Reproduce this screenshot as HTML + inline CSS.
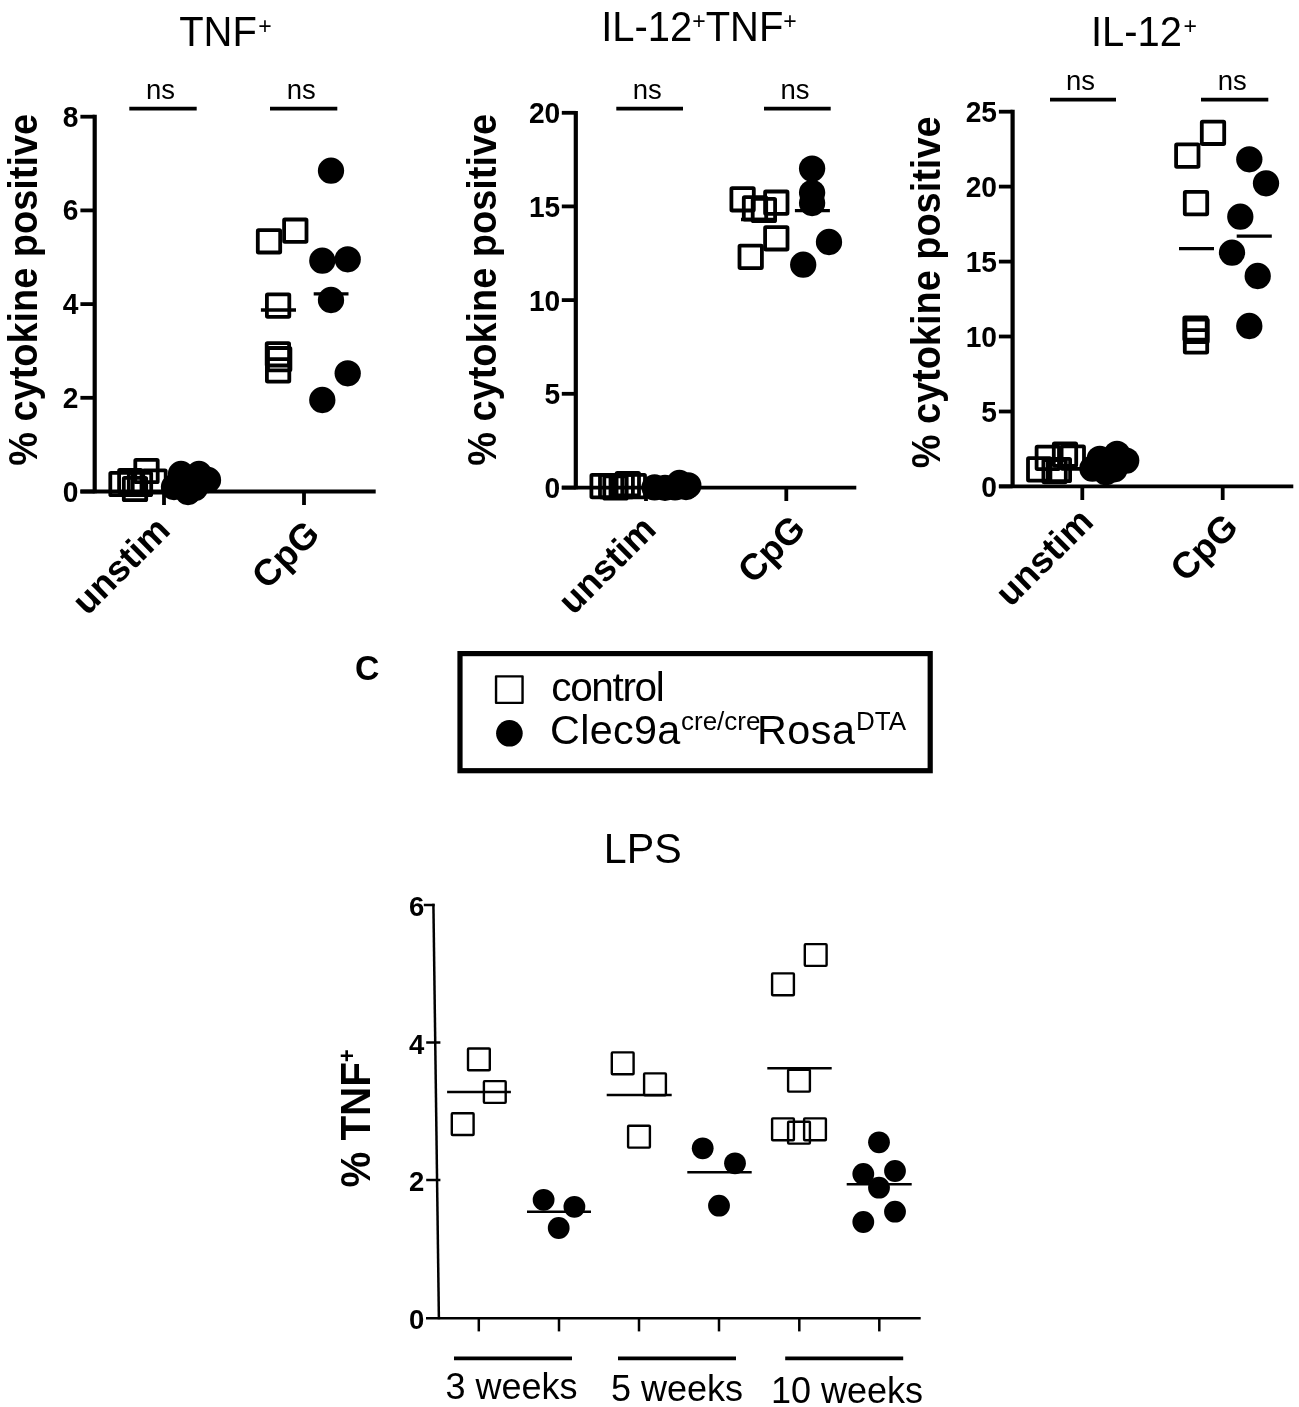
<!DOCTYPE html>
<html><head><meta charset="utf-8"><title>Figure</title>
<style>html,body{margin:0;padding:0;background:#fff;width:1299px;height:1407px;overflow:hidden}svg{display:block}text{fill:#000}</style>
</head><body>
<svg width="1299" height="1407" viewBox="0 0 1299 1407" role="img" aria-label="Cytokine production figure">
<rect width="1299" height="1407" fill="#fff"/>
<g id="p1">
<line x1="94.7" y1="114.8" x2="94.7" y2="493.2" stroke="#000" stroke-width="4.2" stroke-linecap="butt"/>
<line x1="80.4" y1="491.5" x2="375.7" y2="491.5" stroke="#000" stroke-width="3.8" stroke-linecap="butt"/>
<line x1="80.4" y1="116.7" x2="94.7" y2="116.7" stroke="#000" stroke-width="3.8" stroke-linecap="butt"/>
<text transform="translate(78.5 126.7) scale(0.93 1)" font-size="30.3" font-family="Liberation Sans, Arial, Helvetica, sans-serif" font-weight="bold" text-anchor="end" >8</text>
<line x1="80.4" y1="210.4" x2="94.7" y2="210.4" stroke="#000" stroke-width="3.8" stroke-linecap="butt"/>
<text transform="translate(78.5 220.4) scale(0.93 1)" font-size="30.3" font-family="Liberation Sans, Arial, Helvetica, sans-serif" font-weight="bold" text-anchor="end" >6</text>
<line x1="80.4" y1="304.1" x2="94.7" y2="304.1" stroke="#000" stroke-width="3.8" stroke-linecap="butt"/>
<text transform="translate(78.5 314.1) scale(0.93 1)" font-size="30.3" font-family="Liberation Sans, Arial, Helvetica, sans-serif" font-weight="bold" text-anchor="end" >4</text>
<line x1="80.4" y1="397.8" x2="94.7" y2="397.8" stroke="#000" stroke-width="3.8" stroke-linecap="butt"/>
<text transform="translate(78.5 407.8) scale(0.93 1)" font-size="30.3" font-family="Liberation Sans, Arial, Helvetica, sans-serif" font-weight="bold" text-anchor="end" >2</text>
<line x1="80.4" y1="491.5" x2="94.7" y2="491.5" stroke="#000" stroke-width="3.8" stroke-linecap="butt"/>
<text transform="translate(78.5 501.5) scale(0.93 1)" font-size="30.3" font-family="Liberation Sans, Arial, Helvetica, sans-serif" font-weight="bold" text-anchor="end" >0</text>
<line x1="164.0" y1="491.5" x2="164.0" y2="505.0" stroke="#000" stroke-width="3.8" stroke-linecap="butt"/>
<line x1="304.0" y1="491.5" x2="304.0" y2="505.0" stroke="#000" stroke-width="3.8" stroke-linecap="butt"/>
<text transform="translate(37.2 289.8) rotate(-90) scale(0.925 1)" font-size="41" font-family="Liberation Sans, Arial, Helvetica, sans-serif" font-weight="bold" text-anchor="middle" >% cytokine positive</text>
<text transform="translate(179.2 46.2) scale(0.94 1)" font-size="42.5" font-family="Liberation Sans, Arial, Helvetica, sans-serif">TNF<tspan font-size="24.5" dx="1.5" dy="-12.5">+</tspan></text>
<line x1="129.3" y1="108.7" x2="196.7" y2="108.7" stroke="#000" stroke-width="3.8" stroke-linecap="butt"/>
<text x="160.6" y="99.1" font-size="27.5" font-family="Liberation Sans, Arial, Helvetica, sans-serif" text-anchor="middle" >ns</text>
<line x1="270.0" y1="108.7" x2="337.3" y2="108.7" stroke="#000" stroke-width="3.8" stroke-linecap="butt"/>
<text x="301.2" y="99.1" font-size="27.5" font-family="Liberation Sans, Arial, Helvetica, sans-serif" text-anchor="middle" >ns</text>
<text transform="translate(171.9 532.0) rotate(-45)" font-size="36.5" font-family="Liberation Sans, Arial, Helvetica, sans-serif" font-weight="bold" text-anchor="end" >unstim</text>
<text transform="translate(321.5 536.0) rotate(-45)" font-size="36.5" font-family="Liberation Sans, Arial, Helvetica, sans-serif" font-weight="bold" text-anchor="end" >CpG</text>
<rect x="110.3" y="472.8" width="22.4" height="22.4" fill="none" stroke="#000" stroke-width="3.8" stroke-linejoin="round" rx="0.8"/>
<rect x="119.1" y="469.8" width="22.4" height="22.4" fill="none" stroke="#000" stroke-width="3.8" stroke-linejoin="round" rx="0.8"/>
<rect x="135.3" y="459.8" width="22.4" height="22.4" fill="none" stroke="#000" stroke-width="3.8" stroke-linejoin="round" rx="0.8"/>
<rect x="143.3" y="470.3" width="22.4" height="22.4" fill="none" stroke="#000" stroke-width="3.8" stroke-linejoin="round" rx="0.8"/>
<rect x="123.8" y="477.8" width="22.4" height="22.4" fill="none" stroke="#000" stroke-width="3.8" stroke-linejoin="round" rx="0.8"/>
<rect x="128.8" y="472.8" width="22.4" height="22.4" fill="none" stroke="#000" stroke-width="3.8" stroke-linejoin="round" rx="0.8"/>
<circle cx="181.0" cy="474.0" r="13.15" fill="#000"/>
<circle cx="199.0" cy="474.0" r="13.15" fill="#000"/>
<circle cx="208.0" cy="480.0" r="13.15" fill="#000"/>
<circle cx="188.0" cy="492.0" r="13.15" fill="#000"/>
<circle cx="174.0" cy="487.0" r="13.15" fill="#000"/>
<circle cx="195.0" cy="488.0" r="13.15" fill="#000"/>
<rect x="257.8" y="230.1" width="22.4" height="22.4" fill="none" stroke="#000" stroke-width="3.8" stroke-linejoin="round" rx="0.8"/>
<rect x="284.1" y="219.5" width="22.4" height="22.4" fill="none" stroke="#000" stroke-width="3.8" stroke-linejoin="round" rx="0.8"/>
<rect x="266.9" y="294.4" width="22.4" height="22.4" fill="none" stroke="#000" stroke-width="3.8" stroke-linejoin="round" rx="0.8"/>
<rect x="266.7" y="343.1" width="22.4" height="22.4" fill="none" stroke="#000" stroke-width="3.8" stroke-linejoin="round" rx="0.8"/>
<rect x="268.0" y="348.0" width="22.4" height="22.4" fill="none" stroke="#000" stroke-width="3.8" stroke-linejoin="round" rx="0.8"/>
<rect x="266.9" y="359.2" width="22.4" height="22.4" fill="none" stroke="#000" stroke-width="3.8" stroke-linejoin="round" rx="0.8"/>
<line x1="260.9" y1="310.0" x2="296.0" y2="310.0" stroke="#000" stroke-width="3.3" stroke-linecap="butt"/>
<circle cx="331.0" cy="170.7" r="13.15" fill="#000"/>
<circle cx="322.3" cy="260.7" r="13.15" fill="#000"/>
<circle cx="347.7" cy="259.3" r="13.15" fill="#000"/>
<circle cx="331.0" cy="300.0" r="13.15" fill="#000"/>
<circle cx="347.7" cy="373.3" r="13.15" fill="#000"/>
<circle cx="322.3" cy="400.0" r="13.15" fill="#000"/>
<line x1="313.7" y1="293.9" x2="348.5" y2="293.9" stroke="#000" stroke-width="3.3" stroke-linecap="butt"/>
</g>
<g id="p2">
<line x1="575.8" y1="110.9" x2="575.8" y2="489.3" stroke="#000" stroke-width="4.2" stroke-linecap="butt"/>
<line x1="561.8" y1="487.6" x2="856.3" y2="487.6" stroke="#000" stroke-width="3.8" stroke-linecap="butt"/>
<line x1="561.8" y1="112.8" x2="575.8" y2="112.8" stroke="#000" stroke-width="3.8" stroke-linecap="butt"/>
<text transform="translate(560.3 123.2) scale(0.93 1)" font-size="30.3" font-family="Liberation Sans, Arial, Helvetica, sans-serif" font-weight="bold" text-anchor="end" >20</text>
<line x1="561.8" y1="206.4" x2="575.8" y2="206.4" stroke="#000" stroke-width="3.8" stroke-linecap="butt"/>
<text transform="translate(560.3 216.8) scale(0.93 1)" font-size="30.3" font-family="Liberation Sans, Arial, Helvetica, sans-serif" font-weight="bold" text-anchor="end" >15</text>
<line x1="561.8" y1="300.1" x2="575.8" y2="300.1" stroke="#000" stroke-width="3.8" stroke-linecap="butt"/>
<text transform="translate(560.3 310.5) scale(0.93 1)" font-size="30.3" font-family="Liberation Sans, Arial, Helvetica, sans-serif" font-weight="bold" text-anchor="end" >10</text>
<line x1="561.8" y1="393.8" x2="575.8" y2="393.8" stroke="#000" stroke-width="3.8" stroke-linecap="butt"/>
<text transform="translate(560.3 404.2) scale(0.93 1)" font-size="30.3" font-family="Liberation Sans, Arial, Helvetica, sans-serif" font-weight="bold" text-anchor="end" >5</text>
<line x1="561.8" y1="487.6" x2="575.8" y2="487.6" stroke="#000" stroke-width="3.8" stroke-linecap="butt"/>
<text transform="translate(560.3 498.0) scale(0.93 1)" font-size="30.3" font-family="Liberation Sans, Arial, Helvetica, sans-serif" font-weight="bold" text-anchor="end" >0</text>
<line x1="646.0" y1="487.6" x2="646.0" y2="501.0" stroke="#000" stroke-width="3.8" stroke-linecap="butt"/>
<line x1="786.3" y1="487.6" x2="786.3" y2="501.0" stroke="#000" stroke-width="3.8" stroke-linecap="butt"/>
<text transform="translate(496.2 289.8) rotate(-90) scale(0.925 1)" font-size="41" font-family="Liberation Sans, Arial, Helvetica, sans-serif" font-weight="bold" text-anchor="middle" >% cytokine positive</text>
<text transform="translate(601.2 41.4) scale(0.94 1)" font-size="42.5" font-family="Liberation Sans, Arial, Helvetica, sans-serif">IL-12<tspan font-size="24.5" dy="-12.5">+</tspan><tspan dy="12.5">TNF</tspan><tspan font-size="24.5" dy="-12.5">+</tspan></text>
<line x1="616.3" y1="108.7" x2="683.0" y2="108.7" stroke="#000" stroke-width="3.8" stroke-linecap="butt"/>
<text x="647.2" y="99.1" font-size="27.5" font-family="Liberation Sans, Arial, Helvetica, sans-serif" text-anchor="middle" >ns</text>
<line x1="764.0" y1="108.7" x2="830.7" y2="108.7" stroke="#000" stroke-width="3.8" stroke-linecap="butt"/>
<text x="795.0" y="99.1" font-size="27.5" font-family="Liberation Sans, Arial, Helvetica, sans-serif" text-anchor="middle" >ns</text>
<text transform="translate(657.9 531.3) rotate(-45)" font-size="36.5" font-family="Liberation Sans, Arial, Helvetica, sans-serif" font-weight="bold" text-anchor="end" >unstim</text>
<text transform="translate(807.4 530.6) rotate(-45)" font-size="36.5" font-family="Liberation Sans, Arial, Helvetica, sans-serif" font-weight="bold" text-anchor="end" >CpG</text>
<rect x="591.4" y="474.9" width="22.4" height="22.4" fill="none" stroke="#000" stroke-width="3.8" stroke-linejoin="round" rx="0.8"/>
<rect x="600.0" y="474.9" width="22.4" height="22.4" fill="none" stroke="#000" stroke-width="3.8" stroke-linejoin="round" rx="0.8"/>
<rect x="604.3" y="476.3" width="22.4" height="22.4" fill="none" stroke="#000" stroke-width="3.8" stroke-linejoin="round" rx="0.8"/>
<rect x="610.5" y="474.9" width="22.4" height="22.4" fill="none" stroke="#000" stroke-width="3.8" stroke-linejoin="round" rx="0.8"/>
<rect x="616.6" y="472.9" width="22.4" height="22.4" fill="none" stroke="#000" stroke-width="3.8" stroke-linejoin="round" rx="0.8"/>
<rect x="622.6" y="474.9" width="22.4" height="22.4" fill="none" stroke="#000" stroke-width="3.8" stroke-linejoin="round" rx="0.8"/>
<circle cx="654.6" cy="487.4" r="13.15" fill="#000"/>
<circle cx="665.0" cy="487.8" r="13.15" fill="#000"/>
<circle cx="675.0" cy="487.4" r="13.15" fill="#000"/>
<circle cx="688.3" cy="485.4" r="13.15" fill="#000"/>
<circle cx="679.4" cy="483.0" r="13.15" fill="#000"/>
<circle cx="686.0" cy="487.0" r="13.15" fill="#000"/>
<rect x="731.4" y="188.1" width="22.4" height="22.4" fill="none" stroke="#000" stroke-width="3.8" stroke-linejoin="round" rx="0.8"/>
<rect x="743.8" y="197.2" width="22.4" height="22.4" fill="none" stroke="#000" stroke-width="3.8" stroke-linejoin="round" rx="0.8"/>
<rect x="752.7" y="198.8" width="22.4" height="22.4" fill="none" stroke="#000" stroke-width="3.8" stroke-linejoin="round" rx="0.8"/>
<rect x="765.1" y="191.5" width="22.4" height="22.4" fill="none" stroke="#000" stroke-width="3.8" stroke-linejoin="round" rx="0.8"/>
<rect x="765.1" y="227.1" width="22.4" height="22.4" fill="none" stroke="#000" stroke-width="3.8" stroke-linejoin="round" rx="0.8"/>
<rect x="739.5" y="245.7" width="22.4" height="22.4" fill="none" stroke="#000" stroke-width="3.8" stroke-linejoin="round" rx="0.8"/>
<line x1="741.0" y1="219.5" x2="776.0" y2="219.5" stroke="#000" stroke-width="3.3" stroke-linecap="butt"/>
<circle cx="812.1" cy="168.6" r="13.15" fill="#000"/>
<circle cx="812.1" cy="192.8" r="13.15" fill="#000"/>
<circle cx="812.1" cy="203.0" r="13.15" fill="#000"/>
<circle cx="829.0" cy="242.0" r="13.15" fill="#000"/>
<circle cx="803.2" cy="264.7" r="13.15" fill="#000"/>
<line x1="794.9" y1="210.6" x2="829.9" y2="210.6" stroke="#000" stroke-width="3.3" stroke-linecap="butt"/>
</g>
<g id="p3">
<line x1="1012.6" y1="109.8" x2="1012.6" y2="488.1" stroke="#000" stroke-width="4.2" stroke-linecap="butt"/>
<line x1="998.9" y1="486.4" x2="1293.3" y2="486.4" stroke="#000" stroke-width="3.8" stroke-linecap="butt"/>
<line x1="998.9" y1="111.7" x2="1012.6" y2="111.7" stroke="#000" stroke-width="3.8" stroke-linecap="butt"/>
<text transform="translate(997.0 122.0) scale(0.93 1)" font-size="30.3" font-family="Liberation Sans, Arial, Helvetica, sans-serif" font-weight="bold" text-anchor="end" >25</text>
<line x1="998.9" y1="186.6" x2="1012.6" y2="186.6" stroke="#000" stroke-width="3.8" stroke-linecap="butt"/>
<text transform="translate(997.0 196.9) scale(0.93 1)" font-size="30.3" font-family="Liberation Sans, Arial, Helvetica, sans-serif" font-weight="bold" text-anchor="end" >20</text>
<line x1="998.9" y1="261.6" x2="1012.6" y2="261.6" stroke="#000" stroke-width="3.8" stroke-linecap="butt"/>
<text transform="translate(997.0 271.9) scale(0.93 1)" font-size="30.3" font-family="Liberation Sans, Arial, Helvetica, sans-serif" font-weight="bold" text-anchor="end" >15</text>
<line x1="998.9" y1="336.5" x2="1012.6" y2="336.5" stroke="#000" stroke-width="3.8" stroke-linecap="butt"/>
<text transform="translate(997.0 346.8) scale(0.93 1)" font-size="30.3" font-family="Liberation Sans, Arial, Helvetica, sans-serif" font-weight="bold" text-anchor="end" >10</text>
<line x1="998.9" y1="411.5" x2="1012.6" y2="411.5" stroke="#000" stroke-width="3.8" stroke-linecap="butt"/>
<text transform="translate(997.0 421.8) scale(0.93 1)" font-size="30.3" font-family="Liberation Sans, Arial, Helvetica, sans-serif" font-weight="bold" text-anchor="end" >5</text>
<line x1="998.9" y1="486.4" x2="1012.6" y2="486.4" stroke="#000" stroke-width="3.8" stroke-linecap="butt"/>
<text transform="translate(997.0 496.7) scale(0.93 1)" font-size="30.3" font-family="Liberation Sans, Arial, Helvetica, sans-serif" font-weight="bold" text-anchor="end" >0</text>
<line x1="1082.3" y1="486.4" x2="1082.3" y2="500.0" stroke="#000" stroke-width="3.8" stroke-linecap="butt"/>
<line x1="1222.7" y1="486.4" x2="1222.7" y2="500.0" stroke="#000" stroke-width="3.8" stroke-linecap="butt"/>
<text transform="translate(940.0 292.4) rotate(-90) scale(0.925 1)" font-size="41" font-family="Liberation Sans, Arial, Helvetica, sans-serif" font-weight="bold" text-anchor="middle" >% cytokine positive</text>
<text transform="translate(1091 46) scale(0.94 1)" font-size="42.5" font-family="Liberation Sans, Arial, Helvetica, sans-serif">IL-12<tspan font-size="24.5" dx="1.5" dy="-12.5">+</tspan></text>
<line x1="1050.0" y1="99.7" x2="1116.0" y2="99.7" stroke="#000" stroke-width="3.8" stroke-linecap="butt"/>
<text x="1080.6" y="89.8" font-size="27.5" font-family="Liberation Sans, Arial, Helvetica, sans-serif" text-anchor="middle" >ns</text>
<line x1="1201.0" y1="99.7" x2="1268.3" y2="99.7" stroke="#000" stroke-width="3.8" stroke-linecap="butt"/>
<text x="1232.2" y="89.8" font-size="27.5" font-family="Liberation Sans, Arial, Helvetica, sans-serif" text-anchor="middle" >ns</text>
<text transform="translate(1095.2 523.5) rotate(-45)" font-size="36.5" font-family="Liberation Sans, Arial, Helvetica, sans-serif" font-weight="bold" text-anchor="end" >unstim</text>
<text transform="translate(1240.0 528.8) rotate(-45)" font-size="36.5" font-family="Liberation Sans, Arial, Helvetica, sans-serif" font-weight="bold" text-anchor="end" >CpG</text>
<rect x="1028.0" y="458.2" width="22.4" height="22.4" fill="none" stroke="#000" stroke-width="3.8" stroke-linejoin="round" rx="0.8"/>
<rect x="1036.6" y="446.7" width="22.4" height="22.4" fill="none" stroke="#000" stroke-width="3.8" stroke-linejoin="round" rx="0.8"/>
<rect x="1053.8" y="443.4" width="22.4" height="22.4" fill="none" stroke="#000" stroke-width="3.8" stroke-linejoin="round" rx="0.8"/>
<rect x="1061.6" y="446.4" width="22.4" height="22.4" fill="none" stroke="#000" stroke-width="3.8" stroke-linejoin="round" rx="0.8"/>
<rect x="1043.4" y="460.0" width="22.4" height="22.4" fill="none" stroke="#000" stroke-width="3.8" stroke-linejoin="round" rx="0.8"/>
<rect x="1047.7" y="458.8" width="22.4" height="22.4" fill="none" stroke="#000" stroke-width="3.8" stroke-linejoin="round" rx="0.8"/>
<circle cx="1117.0" cy="453.9" r="13.15" fill="#000"/>
<circle cx="1092.4" cy="468.6" r="13.15" fill="#000"/>
<circle cx="1099.8" cy="458.8" r="13.15" fill="#000"/>
<circle cx="1126.2" cy="460.6" r="13.15" fill="#000"/>
<circle cx="1105.9" cy="472.3" r="13.15" fill="#000"/>
<circle cx="1114.5" cy="469.3" r="13.15" fill="#000"/>
<rect x="1201.8" y="121.6" width="22.4" height="22.4" fill="none" stroke="#000" stroke-width="3.8" stroke-linejoin="round" rx="0.8"/>
<rect x="1176.1" y="144.4" width="22.4" height="22.4" fill="none" stroke="#000" stroke-width="3.8" stroke-linejoin="round" rx="0.8"/>
<rect x="1184.8" y="191.9" width="22.4" height="22.4" fill="none" stroke="#000" stroke-width="3.8" stroke-linejoin="round" rx="0.8"/>
<rect x="1184.3" y="317.3" width="22.4" height="22.4" fill="none" stroke="#000" stroke-width="3.8" stroke-linejoin="round" rx="0.8"/>
<rect x="1185.4" y="319.7" width="22.4" height="22.4" fill="none" stroke="#000" stroke-width="3.8" stroke-linejoin="round" rx="0.8"/>
<rect x="1184.8" y="330.2" width="22.4" height="22.4" fill="none" stroke="#000" stroke-width="3.8" stroke-linejoin="round" rx="0.8"/>
<line x1="1179.0" y1="248.6" x2="1214.0" y2="248.6" stroke="#000" stroke-width="3.3" stroke-linecap="butt"/>
<circle cx="1249.3" cy="159.3" r="13.15" fill="#000"/>
<circle cx="1266.0" cy="183.3" r="13.15" fill="#000"/>
<circle cx="1240.3" cy="216.7" r="13.15" fill="#000"/>
<circle cx="1232.0" cy="252.7" r="13.15" fill="#000"/>
<circle cx="1257.7" cy="276.0" r="13.15" fill="#000"/>
<circle cx="1249.3" cy="326.0" r="13.15" fill="#000"/>
<line x1="1236.7" y1="236.1" x2="1271.8" y2="236.1" stroke="#000" stroke-width="3.3" stroke-linecap="butt"/>
</g>
<g id="legend">
<text transform="translate(354.9 680.4) scale(0.945 1)" font-size="35.7" font-family="Liberation Sans, Arial, Helvetica, sans-serif" font-weight="bold" text-anchor="start" >C</text>
<rect x="460" y="653.6" width="470.2" height="117.1" fill="none" stroke="#000" stroke-width="5.2"/>
<rect x="496.05" y="676.35" width="26.5" height="26.5" fill="none" stroke="#000" stroke-width="2.4" stroke-linejoin="round"/>
<circle cx="509.4" cy="733.3" r="13.3" fill="#000"/>
<text x="551.3" y="700.7" font-size="40.5" font-family="Liberation Sans, Arial, Helvetica, sans-serif" text-anchor="start" letter-spacing="-1.35">control</text>
<text y="743.8" font-size="41.3" font-family="Liberation Sans, Arial, Helvetica, sans-serif"><tspan x="550" letter-spacing="0.35">Clec9a</tspan><tspan x="681" font-size="26" dy="-14.3">cre/cre</tspan><tspan x="757" dy="14.3" letter-spacing="0.5">Rosa</tspan><tspan x="856" font-size="26" dy="-14.3">DTA</tspan></text>
</g>
<g id="pc">
<line x1="433.4" y1="903.8" x2="438.9" y2="1319.3" stroke="#000" stroke-width="2.5" stroke-linecap="butt"/>
<line x1="426.0" y1="1318.3" x2="920.7" y2="1318.3" stroke="#000" stroke-width="2.5" stroke-linecap="butt"/>
<line x1="423.8" y1="905.0" x2="434.6" y2="905.0" stroke="#000" stroke-width="2.5" stroke-linecap="butt"/>
<line x1="426.2" y1="1042.5" x2="440.4" y2="1042.5" stroke="#000" stroke-width="2.5" stroke-linecap="butt"/>
<line x1="426.2" y1="1180.0" x2="440.4" y2="1180.0" stroke="#000" stroke-width="2.5" stroke-linecap="butt"/>
<text x="424.2" y="915.7" font-size="27.5" font-family="Liberation Sans, Arial, Helvetica, sans-serif" font-weight="bold" text-anchor="end" >6</text>
<text x="424.2" y="1053.9" font-size="27.5" font-family="Liberation Sans, Arial, Helvetica, sans-serif" font-weight="bold" text-anchor="end" >4</text>
<text x="424.2" y="1191.4" font-size="27.5" font-family="Liberation Sans, Arial, Helvetica, sans-serif" font-weight="bold" text-anchor="end" >2</text>
<text x="424.2" y="1328.8" font-size="27.5" font-family="Liberation Sans, Arial, Helvetica, sans-serif" font-weight="bold" text-anchor="end" >0</text>
<line x1="478.8" y1="1318.3" x2="478.8" y2="1331.4" stroke="#000" stroke-width="2.5" stroke-linecap="butt"/>
<line x1="559.0" y1="1318.3" x2="559.0" y2="1331.4" stroke="#000" stroke-width="2.5" stroke-linecap="butt"/>
<line x1="639.0" y1="1318.3" x2="639.0" y2="1331.4" stroke="#000" stroke-width="2.5" stroke-linecap="butt"/>
<line x1="719.0" y1="1318.3" x2="719.0" y2="1331.4" stroke="#000" stroke-width="2.5" stroke-linecap="butt"/>
<line x1="799.3" y1="1318.3" x2="799.3" y2="1331.4" stroke="#000" stroke-width="2.5" stroke-linecap="butt"/>
<line x1="879.3" y1="1318.3" x2="879.3" y2="1331.4" stroke="#000" stroke-width="2.5" stroke-linecap="butt"/>
<text transform="translate(603.8 863.2) scale(0.98 1)" font-size="42" font-family="Liberation Sans, Arial, Helvetica, sans-serif" text-anchor="start" >LPS</text>
<text transform="translate(369.9 1187.6) rotate(-90) scale(0.96 1)" font-size="42" font-family="Liberation Sans, Arial, Helvetica, sans-serif" font-weight="bold">% TNF<tspan font-size="23" dy="-14.5">+</tspan></text>
<rect x="468.0" y="1048.5" width="21.8" height="21.8" fill="none" stroke="#000" stroke-width="2.4" stroke-linejoin="round" rx="0.8"/>
<rect x="483.9" y="1081.1" width="21.8" height="21.8" fill="none" stroke="#000" stroke-width="2.4" stroke-linejoin="round" rx="0.8"/>
<rect x="451.8" y="1113.2" width="21.8" height="21.8" fill="none" stroke="#000" stroke-width="2.4" stroke-linejoin="round" rx="0.8"/>
<line x1="447.1" y1="1092.0" x2="510.9" y2="1092.0" stroke="#000" stroke-width="2.5" stroke-linecap="butt"/>
<circle cx="543.6" cy="1199.8" r="10.9" fill="#000"/>
<circle cx="574.4" cy="1206.8" r="10.9" fill="#000"/>
<circle cx="558.7" cy="1228.0" r="10.9" fill="#000"/>
<line x1="527.0" y1="1211.7" x2="591.0" y2="1211.7" stroke="#000" stroke-width="2.5" stroke-linecap="butt"/>
<rect x="611.8" y="1052.4" width="21.8" height="21.8" fill="none" stroke="#000" stroke-width="2.4" stroke-linejoin="round" rx="0.8"/>
<rect x="644.1" y="1073.4" width="21.8" height="21.8" fill="none" stroke="#000" stroke-width="2.4" stroke-linejoin="round" rx="0.8"/>
<rect x="628.1" y="1125.8" width="21.8" height="21.8" fill="none" stroke="#000" stroke-width="2.4" stroke-linejoin="round" rx="0.8"/>
<line x1="606.7" y1="1095.0" x2="671.7" y2="1095.0" stroke="#000" stroke-width="2.5" stroke-linecap="butt"/>
<circle cx="702.7" cy="1148.3" r="10.9" fill="#000"/>
<circle cx="735.0" cy="1163.3" r="10.9" fill="#000"/>
<circle cx="719.0" cy="1205.7" r="10.9" fill="#000"/>
<line x1="687.3" y1="1172.3" x2="751.7" y2="1172.3" stroke="#000" stroke-width="2.5" stroke-linecap="butt"/>
<rect x="804.8" y="944.1" width="21.8" height="21.8" fill="none" stroke="#000" stroke-width="2.4" stroke-linejoin="round" rx="0.8"/>
<rect x="772.1" y="973.4" width="21.8" height="21.8" fill="none" stroke="#000" stroke-width="2.4" stroke-linejoin="round" rx="0.8"/>
<rect x="788.1" y="1069.8" width="21.8" height="21.8" fill="none" stroke="#000" stroke-width="2.4" stroke-linejoin="round" rx="0.8"/>
<rect x="772.1" y="1118.4" width="21.8" height="21.8" fill="none" stroke="#000" stroke-width="2.4" stroke-linejoin="round" rx="0.8"/>
<rect x="788.1" y="1121.8" width="21.8" height="21.8" fill="none" stroke="#000" stroke-width="2.4" stroke-linejoin="round" rx="0.8"/>
<rect x="804.1" y="1118.4" width="21.8" height="21.8" fill="none" stroke="#000" stroke-width="2.4" stroke-linejoin="round" rx="0.8"/>
<line x1="767.3" y1="1068.3" x2="831.7" y2="1068.3" stroke="#000" stroke-width="2.5" stroke-linecap="butt"/>
<circle cx="879.0" cy="1142.3" r="10.9" fill="#000"/>
<circle cx="863.3" cy="1174.0" r="10.9" fill="#000"/>
<circle cx="895.0" cy="1171.0" r="10.9" fill="#000"/>
<circle cx="879.0" cy="1187.7" r="10.9" fill="#000"/>
<circle cx="895.0" cy="1211.7" r="10.9" fill="#000"/>
<circle cx="863.3" cy="1222.0" r="10.9" fill="#000"/>
<line x1="846.7" y1="1184.3" x2="911.7" y2="1184.3" stroke="#000" stroke-width="2.5" stroke-linecap="butt"/>
<line x1="454.0" y1="1358.3" x2="572.0" y2="1358.3" stroke="#000" stroke-width="3.8" stroke-linecap="butt"/>
<line x1="618.0" y1="1358.3" x2="736.0" y2="1358.3" stroke="#000" stroke-width="3.8" stroke-linecap="butt"/>
<line x1="785.2" y1="1358.3" x2="903.2" y2="1358.3" stroke="#000" stroke-width="3.8" stroke-linecap="butt"/>
<text x="445.5" y="1399.0" font-size="36" font-family="Liberation Sans, Arial, Helvetica, sans-serif" text-anchor="start" >3 weeks</text>
<text x="611.0" y="1401.0" font-size="36" font-family="Liberation Sans, Arial, Helvetica, sans-serif" text-anchor="start" >5 weeks</text>
<text x="771.0" y="1402.5" font-size="36" font-family="Liberation Sans, Arial, Helvetica, sans-serif" text-anchor="start" >10 weeks</text>
</g>
</svg>
</body></html>
